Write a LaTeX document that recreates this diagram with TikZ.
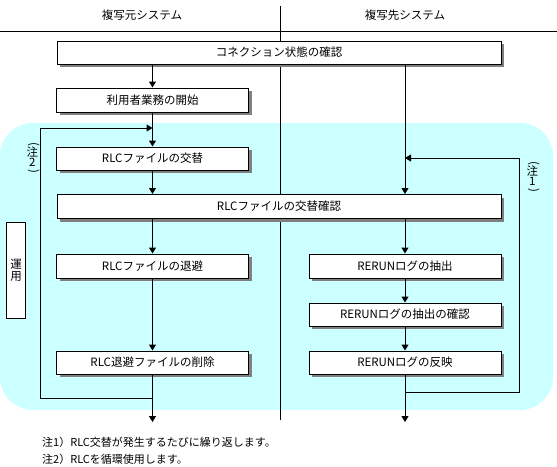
\documentclass[tikz,border=0pt]{standalone}
\usepackage{fontspec}
\setmainfont{Noto Sans CJK JP}
\usetikzlibrary{arrows.meta,shadows}
\definecolor{bgcyan}{RGB}{204,255,255}
\definecolor{shadowgray}{RGB}{128,128,128}
\begin{document}
\begin{tikzpicture}[x=1pt,y=-1pt,
  every node/.style={font=\fontsize{11.5}{13}\selectfont, inner sep=0pt},
  box/.style={draw, fill=white, line width=1pt,
    drop shadow={shadow xshift=3pt, shadow yshift=-3pt, fill=shadowgray, opacity=1}},
  plainbox/.style={draw, fill=white, line width=1pt},
  arr/.style={line width=1pt, -{Triangle[length=6pt,width=7pt]}},
  ln/.style={line width=1pt},
  vt/.style={text height=7.5pt, text depth=1.5pt},
  vp/.style={rotate=-90, text height=6pt, text depth=1.5pt},
  note/.style={anchor=west, text height=8.5pt, text depth=1.5pt, font=\fontsize{11}{13}\selectfont}]
\useasboundingbox (0,0) rectangle (557,466);
% background zone
\fill[bgcyan, rounded corners=33pt] (0,123) rectangle (553,410);
% header
\coordinate (hl) at (0,31);
\coordinate (hr) at (557,31);
\draw[ln] (hl) -- (hr);
\coordinate (dtop) at (280,6);
\coordinate (dbot) at (280,420);
\draw[ln] (dtop) -- (dbot);
\node (h1) at (142,15) {複写元システム};
\node (h2) at (405,15) {複写先システム};
% coordinates for free ends
\coordinate (endL) at (152.5,422);
\coordinate (endR) at (405,422);
\coordinate (lbot) at (152.5,398);
\coordinate (ltop) at (152.5,128);
\coordinate (lx) at (40.7,0);
\coordinate (rbot) at (405,392);
\coordinate (rtop) at (405,158);
\coordinate (rx) at (519,0);
% loops
\draw[arr] (lbot) -- (lbot -| lx) -- (ltop -| lx) -- (ltop);
\draw[arr] (rbot) -- (rbot -| rx) -- (rtop -| rx) -- (rtop);
% boxes
\node[box, minimum width=444pt, minimum height=23pt] (conn) at (279,52.5) {コネクション状態の確認};
\node[box, minimum width=192pt, minimum height=24pt] (start) at (152.5,100) {利用者業務の開始};
\node[box, minimum width=192pt, minimum height=23pt] (swap) at (152.5,158.5) {RLCファイルの交替};
\node[box, minimum width=444pt, minimum height=24pt] (swapchk) at (279,206.5) {RLCファイルの交替確認};
\node[box, minimum width=192pt, minimum height=24pt] (save) at (152.5,266) {RLCファイルの退避};
\node[box, minimum width=192pt, minimum height=23pt] (del) at (152.5,362.5) {RLC退避ファイルの削除};
\node[box, minimum width=192pt, minimum height=24pt] (ext) at (405,266) {RERUNログの抽出};
\node[box, minimum width=192pt, minimum height=23pt] (extchk) at (405,314.5) {RERUNログの抽出の確認};
\node[box, minimum width=192pt, minimum height=23pt] (apply) at (405,362.5) {RERUNログの反映};
\node[plainbox, minimum width=18.5pt, minimum height=96pt, align=center,
      font=\fontsize{11.5}{12}\selectfont] (unyo) at (16,270) {運\\用};
% connectors left
\draw[arr] (conn.south -| start.north) -- (start.north);
\draw[arr] (start.south) -- (swap.north);
\draw[arr] (swap.south) -- (swap.south |- swapchk.north);
\draw[arr] (save.north |- swapchk.south) -- (save.north);
\draw[arr] (save.south) -- (del.north);
\draw[arr] (del.south) -- (endL);
% connectors right
\draw[arr] (conn.south -| ext.north) -- (swapchk.north -| ext.north);
\draw[arr] (swapchk.south -| ext.north) -- (ext.north);
\draw[arr] (ext.south) -- (extchk.north);
\draw[arr] (extchk.south) -- (apply.north);
\draw[arr] (apply.south) -- (endR);
% vertical notes
\node[vp] (p2a) at (32.3,144) {(};
\node[vt] (p2b) at (32.3,153) {注};
\node[vt] (p2c) at (32.3,163) {2};
\node[vp] (p2d) at (32.3,171.5) {)};
\node[vp] (p1a) at (532.3,163) {(};
\node[vt] (p1b) at (532.3,172) {注};
\node[vt] (p1c) at (532.3,182) {1};
\node[vp] (p1d) at (532.3,190.5) {)};
% footnotes
\node[note] (n1) at (42,443) {注1）RLC交替が発生するたびに繰り返します。};
\node[note] (n2) at (42,459.5) {注2）RLCを循環使用します。};
\end{tikzpicture}
\end{document}
